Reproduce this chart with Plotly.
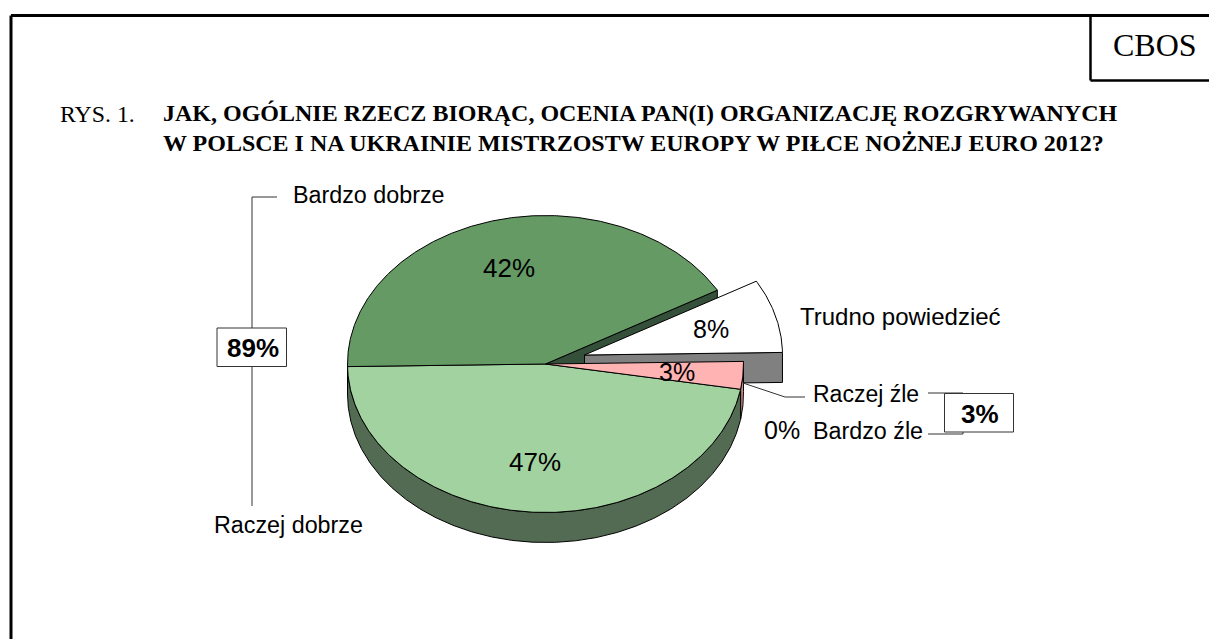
import math
import plotly.graph_objects as go

categories = ["Bardzo dobrze", "Trudno powiedzieć", "Raczej źle", "Bardzo źle", "Raczej dobrze"]
values = [42, 8, 3, 0, 47]
value_labels = ["42%", "8%", "3%", "0%", "47%"]
bracket_labels = ["89%", "3%"]

W, H = 1209, 639
CX, CY, RX, RY, DEPTH = 545.5, 364, 198, 148.5, 30
START = 181
EXPLODE = {"Trudno powiedzieć": (39, -9)}
TOP = {"Bardzo dobrze": "#659A65", "Trudno powiedzieć": "#FFFFFF", "Raczej źle": "#FFB3B3",
       "Bardzo źle": "#E0E0E0", "Raczej dobrze": "#A1D2A0"}
WALL = {"Bardzo dobrze": "#34503A", "Trudno powiedzieć": "#808080", "Raczej źle": "#D08A8A",
        "Bardzo źle": "#999999", "Raczej dobrze": "#526B52"}

angles = {}
a = START
for c, v in zip(categories, values):
    b = a - v * 3.6
    angles[c] = (a, b)
    a = b


def pt(c, deg, drop=0):
    ox, oy = EXPLODE.get(c, (0, 0))
    t = math.radians(deg)
    return CX + ox + RX * math.cos(t), CY + oy - RY * math.sin(t) + drop


def arc(c, a0, a1, drop=0):
    n = max(2, int(abs(a0 - a1) * 2))
    return [pt(c, a0 + (a1 - a0) * i / n, drop) for i in range(n + 1)]


fig = go.Figure()


def poly(points, fill, width=1.0):
    xs = [p[0] for p in points] + [points[0][0]]
    ys = [p[1] for p in points] + [points[0][1]]
    fig.add_trace(go.Scatter(x=xs, y=ys, mode="lines", fill="toself", fillcolor=fill,
                             line=dict(color="#000000", width=width), hoverinfo="skip",
                             showlegend=False))


def apex(c, drop=0):
    ox, oy = EXPLODE.get(c, (0, 0))
    return CX + ox, CY + oy + drop


def radial_wall(c, deg):
    poly([apex(c), pt(c, deg), pt(c, deg, DEPTH), apex(c, DEPTH)], WALL[c])


def rim_wall(c, a0, a1):
    poly(arc(c, a0, a1) + arc(c, a1, a0, DEPTH), WALL[c])


def top(c):
    a0, a1 = angles[c]
    poly([apex(c)] + arc(c, a0, a1), TOP[c])


# back to front
radial_wall("Bardzo dobrze", angles["Bardzo dobrze"][1])
radial_wall("Trudno powiedzieć", angles["Trudno powiedzieć"][1])
top("Trudno powiedzieć")
rim_wall("Raczej źle", *angles["Raczej źle"])
rim_wall("Raczej dobrze", angles["Raczej dobrze"][0], -180)
top("Raczej dobrze")
top("Bardzo dobrze")
top("Raczej źle")

SANS = "Liberation Sans, Arial, sans-serif"
SERIF = "Liberation Serif, Times New Roman, serif"


def text(x, y, s, size=26, family=SANS, anchor="center", bold=False):
    fig.add_annotation(x=x, y=y, xref="x", yref="y", text=f"<b>{s}</b>" if bold else s, showarrow=False,
                       xanchor=anchor, yanchor="middle", align="left", xshift=-2 if anchor == "left" else 0,
                       font=dict(family=family, size=size, color="#000000"))


def line(x0, y0, x1, y1, width=1.0, color="#000000"):
    fig.add_shape(type="line", x0=x0, y0=y0, x1=x1, y1=y1, xref="x", yref="y",
                  line=dict(color=color, width=width))


# frame
line(11, 15.5, W, 15.5, 3)
line(11, 15.5, 11, H, 3)
line(1090.5, 15.5, 1090.5, 80.5, 2.5)
line(1090.5, 80.5, W, 80.5, 2.5)
text(1155, 45, "CBOS", size=32, family=SERIF)

text(60, 114, "RYS. 1.", size=23.8, family=SERIF, anchor="left")
text(163, 113, "JAK, OGÓLNIE RZECZ BIORĄC, OCENIA PAN(I) ORGANIZACJĘ ROZGRYWANYCH", size=24, family=SERIF, anchor="left", bold=True)
text(163, 143, "W POLSCE I NA UKRAINIE MISTRZOSTW EUROPY W PIŁCE NOŻNEJ EURO 2012?", size=24, family=SERIF, anchor="left", bold=True)

# leaders
line(277, 197, 252, 197, 1, "#333333")
line(252, 197, 252, 506, 1, "#333333")
line(743, 383, 785, 397, 1, "#333333")
line(785, 397, 805, 397, 1, "#333333")
line(928, 393, 963, 393, 1, "#333333")
line(928, 434, 963, 434, 1, "#333333")
line(963, 431, 963, 434, 1, "#333333")
fig.add_shape(type="rect", x0=217, y0=328, x1=286.5, y1=366.5, xref="x", yref="y",
              fillcolor="#FFFFFF", line=dict(color="#333333", width=1))
fig.add_shape(type="rect", x0=944.5, y0=393.5, x1=1013.5, y1=432, xref="x", yref="y",
              fillcolor="#FFFFFF", line=dict(color="#333333", width=1))

text(253, 348, bracket_labels[0], bold=True)
text(980, 414, bracket_labels[1], bold=True)

text(509, 268, value_labels[0])
text(711, 329, value_labels[1], size=25)
text(677, 371.5, value_labels[2], size=25)
text(782, 430, value_labels[3], size=25)
text(535, 462, value_labels[4])

text(293, 195, categories[0], size=23.3, anchor="left")
text(800, 316, categories[1], size=24, anchor="left")
text(813, 394, categories[2], size=23, anchor="left")
text(813, 431, categories[3], size=23.3, anchor="left")
text(214, 525, categories[4], size=23.3, anchor="left")

fig.update_layout(width=W, height=H, margin=dict(l=0, r=0, t=0, b=0), autosize=False,
                  paper_bgcolor="#FFFFFF", plot_bgcolor="#FFFFFF", showlegend=False,
                  xaxis=dict(range=[0, W], visible=False, fixedrange=True),
                  yaxis=dict(range=[H, 0], visible=False, fixedrange=True))
fig.write_html("out.html", config={"displayModeBar": False},
               post_script="document.body.style.margin='0';document.body.style.overflow='hidden';")
